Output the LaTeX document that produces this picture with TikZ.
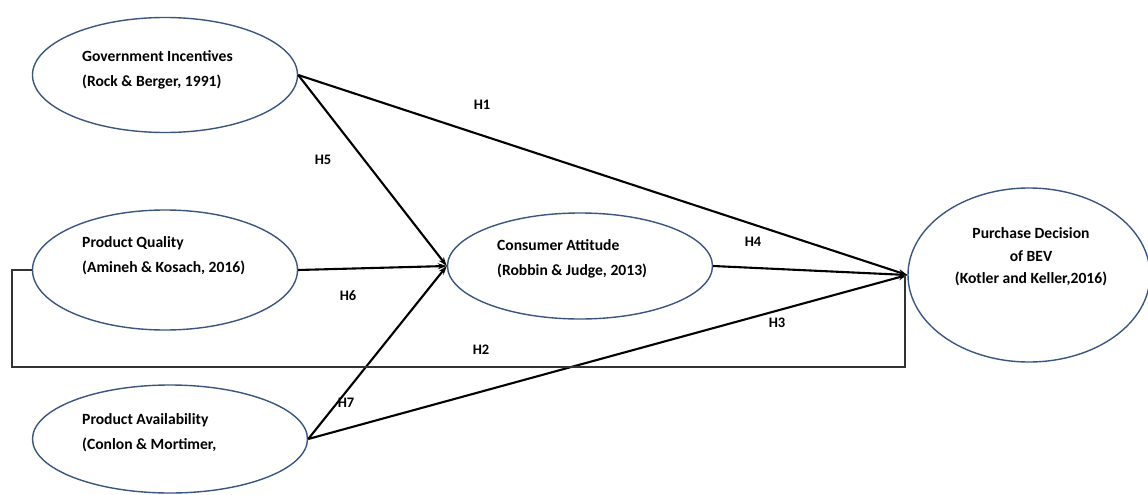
\documentclass[tikz,border=0pt]{standalone}
\usepackage{fontspec}
\setmainfont{Carlito}
\usetikzlibrary{shapes.geometric,arrows.meta}
\definecolor{ellline}{HTML}{3A5580}
\tikzset{
  construct/.style={ellipse,draw=ellline,line width=1.4pt,inner sep=0pt},
  ctext/.style={anchor=west,align=left,inner sep=0pt,font=\bfseries\fontsize{15.6}{25}\selectfont},
  path/.style={draw=black,line width=2.1pt,-{Stealth[length=9pt,width=6pt]}},
  hlabel/.style={inner sep=0pt,font=\bfseries\fontsize{14.5}{16}\selectfont},
}
\begin{document}
\begin{tikzpicture}[x=1pt,y=-1pt]
\useasboundingbox (0,0) rectangle (1148,495);
% constructs
\node[construct,minimum width=265pt,minimum height=115pt] (gi) at (165,75) {};
\node[construct,minimum width=265pt,minimum height=120pt] (pq) at (165,270) {};
\node[construct,minimum width=275pt,minimum height=108pt] (pa) at (170,439) {};
\node[construct,minimum width=265pt,minimum height=106pt] (ca) at (580,266) {};
\node[construct,minimum width=242pt,minimum height=174pt] (pd) at (1029,275) {};
% texts
\node[ctext] (tgi) at (82,70) {Government Incentives\\(Rock \& Berger, 1991)};
\node[ctext] (tpq) at (82,256) {Product Quality\\(Amineh \& Kosach, 2016)};
\node[ctext] (tpa) at (82,433) {Product Availability\\(Conlon \& Mortimer,};
\node[ctext] (tca) at (497,259) {Consumer Attitude\\(Robbin \& Judge, 2013)};
\node[align=center,inner sep=0pt,font=\bfseries\fontsize{15.6}{22.5}\selectfont] (tpd) at (1031,257) {Purchase Decision\\of BEV\\(Kotler and Keller,2016)};
% connectors
\draw[path] (gi.east) -- (pd.west);
\draw[path] (gi.east) -- (ca.west);
\draw[path] (pq.east) -- (ca.west);
\draw[path] (pa.east) -- (ca.west);
\draw[path] (pa.east) -- (pd.west);
\draw[path] (ca.east) -- (pd.west);
\coordinate (h2a) at (12,367);
\coordinate (h2b) at (905,367);
\draw[line width=1.4pt,draw=black!80] (pq.west) -| (h2a) -- (h2b) -- (h2b |- pd.west);
% labels
\node[hlabel] (h1) at (482,105) {H1};
\node[hlabel] (h5) at (323,160) {H5};
\node[hlabel] (h6) at (348,296) {H6};
\node[hlabel] (h7) at (346,403) {H7};
\node[hlabel] (h4) at (753,242) {H4};
\node[hlabel] (h3) at (777,323) {H3};
\node[hlabel] (h2) at (481,350) {H2};
\end{tikzpicture}
\end{document}
